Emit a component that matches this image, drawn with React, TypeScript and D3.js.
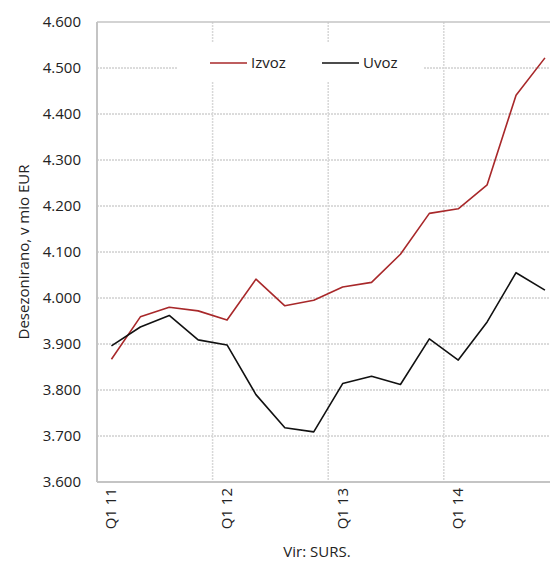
import * as d3 from "d3";
import React from "react";

const quarters = [
	"Q1 11", "Q2 11", "Q3 11", "Q4 11",
	"Q1 12", "Q2 12", "Q3 12", "Q4 12",
	"Q1 13", "Q2 13", "Q3 13", "Q4 13",
	"Q1 14", "Q2 14", "Q3 14", "Q4 14",
];

const izvoz = [
	3867, 3959, 3980, 3972, 3952, 4041, 3983, 3995,
	4024, 4034, 4095, 4184, 4194, 4246, 4441, 4522,
];

const uvoz = [
	3896, 3937, 3962, 3909, 3898, 3790, 3718, 3709,
	3814, 3830, 3812, 3911, 3865, 3948, 4055, 4017,
];

const yTicks = [3600, 3700, 3800, 3900, 4000, 4100, 4200, 4300, 4400, 4500, 4600];

const series = [
	{ name: "Izvoz", values: izvoz, color: "#a8282a" },
	{ name: "Uvoz", values: uvoz, color: "#111111" },
];

const FONT = "'Open Sans', sans-serif";
const fmt = (v: number) => d3.format(",.3f")(v / 1000).replace(",", "");

const App = () => {
	const margin = { top: 22, left: 97 };
	const plotH = 460;
	const bandW = 28.9;
	const plotW = bandW * quarters.length;

	const x = d3
		.scaleBand<string>()
		.domain(quarters)
		.range([0, plotW])
		.paddingInner(0)
		.paddingOuter(0);

	const y = d3.scaleLinear().domain([3600, 4600]).range([plotH, 0]);

	const line = d3
		.line<number>()
		.x((_, i) => x(quarters[i])! + x.bandwidth() / 2)
		.y((d) => y(d));

	const yearStarts = quarters.filter((q, i) => q.startsWith("Q1") && i > 0);

	return (
		<svg
			width={550}
			height={561}
			style={{ position: "absolute", left: 0, top: 0, background: "#fff" }}
			fontFamily={FONT}
		>
			<g transform={`translate(${margin.left},${margin.top})`}>
				{/* horizontal grid */}
				{yTicks.slice(1, -1).map((t) => (
					<line
						key={t}
						x1={0}
						x2={plotW}
						y1={y(t)}
						y2={y(t)}
						stroke="#b8b8b8"
						strokeWidth={1}
						strokeDasharray="2,1"
					/>
				))}
				{/* vertical grid at year boundaries */}
				{yearStarts.map((q) => (
					<line
						key={q}
						x1={x(q)!}
						x2={x(q)!}
						y1={0}
						y2={plotH}
						stroke="#d8d8d8"
						strokeWidth={1.5}
						strokeDasharray="2,1"
					/>
				))}
				{/* top border */}
				<line x1={0} x2={plotW} y1={0} y2={0} stroke="#c4c4c4" strokeWidth={1.5} />

				{/* legend */}
				<rect x={81} y={20} width={245} height={40} fill="#fff" />
				{series.map((s, i) => (
					<g key={s.name} transform={`translate(${113 + i * 112},${41})`}>
						<line x1={0} x2={37} y1={0} y2={0} stroke={s.color} strokeWidth={1.5} />
						<text x={41} y={5} fontSize={15} fill="#222">
							{s.name}
						</text>
					</g>
				))}

				{/* series */}
				{series.map((s) => (
					<path
						key={s.name}
						d={line(s.values)!}
						fill="none"
						stroke={s.color}
						strokeWidth={1.6}
						strokeLinejoin="round"
					/>
				))}

				{/* axes */}
				<line x1={0} x2={0} y1={0} y2={plotH} stroke="#c4c4c4" strokeWidth={2} />
				<line x1={0} x2={plotW} y1={plotH} y2={plotH} stroke="#c4c4c4" strokeWidth={2} />

				{yTicks.map((t) => (
					<text
						key={t}
						x={-16}
						y={y(t)}
						dy="0.35em"
						textAnchor="end"
						fontSize={15}
						fill="#222"
					>
						{fmt(t)}
					</text>
				))}

				{quarters
					.filter((q) => q.startsWith("Q1"))
					.map((q) => (
						<text
							key={q}
							transform={`translate(${x(q)! + x.bandwidth() / 2 + 5},${plotH + 6}) rotate(-90)`}
							textAnchor="end"
							fontSize={15}
							fill="#222"
						>
							{q}
						</text>
					))}
			</g>

			<text
				transform="translate(29,252) rotate(-90)"
				textAnchor="middle"
				fontSize={15}
				fill="#222"
			>
				Desezonirano, v mio EUR
			</text>
			<text x={317} y={557} textAnchor="middle" fontSize={15} fill="#222">
				Vir: SURS.
			</text>
		</svg>
	);
};

export default App;
